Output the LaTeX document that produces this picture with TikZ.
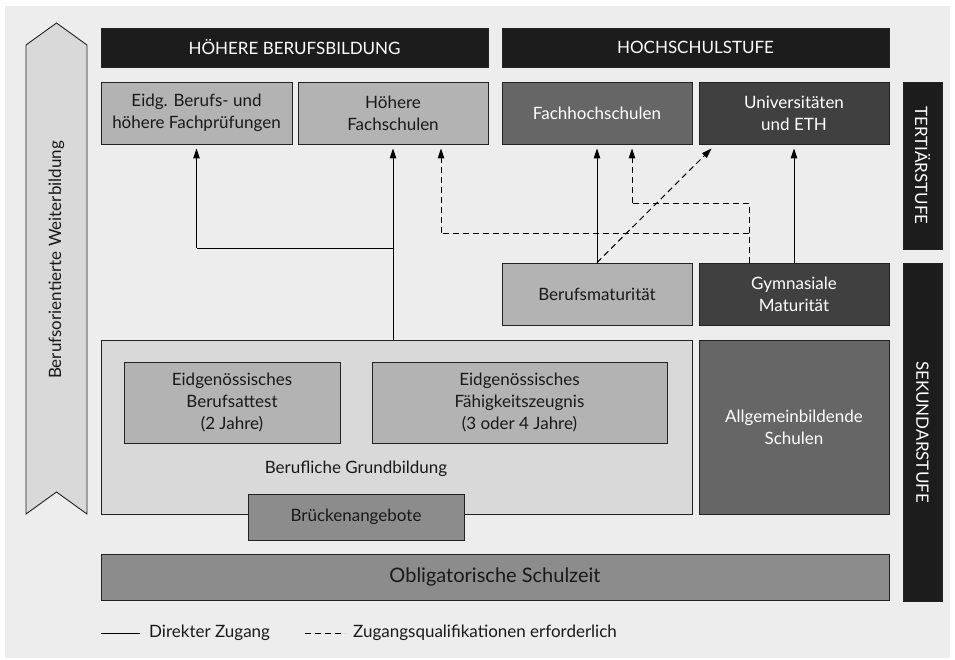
\documentclass[tikz,border=0pt]{standalone}
\usepackage{fontspec}
\setmainfont{Lato}
\usetikzlibrary{arrows.meta}
\definecolor{bgc}{HTML}{EDEDED}
\definecolor{barc}{HTML}{1C1C1C}
\definecolor{midc}{HTML}{B3B3B3}
\definecolor{darkc}{HTML}{666666}
\definecolor{darkerc}{HTML}{404040}
\definecolor{lightc}{HTML}{D9D9D9}
\definecolor{brkc}{HTML}{8C8C8C}
\definecolor{linec}{HTML}{222222}
\tikzset{
  txt/.style={font=\fontsize{17}{22}\selectfont},
  box/.style={draw=linec, line width=0.9pt, inner sep=0pt, align=center,
    txt, text=black!90},
  bar/.style={draw=linec, fill=barc, line width=0.9pt, inner sep=0pt, align=center,
    txt, text=white},
  light/.style={fill=midc},
  dark/.style={fill=darkc, text=white},
  darker/.style={fill=darkerc, text=white},
  conn/.style={line width=1pt, black, -{Triangle[length=10pt,width=6.5pt]}},
  dconn/.style={conn, dash pattern=on 6pt off 4pt},
  dline/.style={line width=1pt, black, dash pattern=on 6pt off 4pt},
  sline/.style={line width=1pt, black},
}
\begin{document}
\begin{tikzpicture}[x=1pt,y=-1pt]
\useasboundingbox (0,0) rectangle (955,659);
\fill[bgc] (5,6) rectangle (950,658);
% chevron
\draw[linec, fill=lightc, line width=0.9pt] (26,45) -- (56.5,23) -- (87,45) -- (87,514) -- (56.5,492) -- (26,514) -- cycle;
\node[rotate=90, txt, text=black!90] (bw) at (56.5,260) {Berufsorientierte Weiterbildung};
% headers
\node[bar, minimum width=387pt, minimum height=39pt] (hb) at (294.5,47.5) {HÖHERE BERUFSBILDUNG};
\node[bar, minimum width=387pt, minimum height=39pt] (hs) at (695.5,47.5) {HOCHSCHULSTUFE};
% tertiary
\node[box, light, minimum width=191pt, minimum height=62pt] (eidg) at (196.5,113) {Eidg. Berufs- und\\höhere Fachprüfungen};
\node[box, light, minimum width=190pt, minimum height=62pt] (hfs) at (393,113) {Höhere\\Fachschulen};
\node[box, dark, minimum width=190pt, minimum height=62pt] (fh) at (597,113) {Fachhochschulen};
\node[box, darker, minimum width=190pt, minimum height=62pt] (uni) at (794,113) {Universitäten\\und ETH};
% side bars
\node[bar, minimum width=39pt, minimum height=167pt] (tert) at (922.5,165.5) {};
\node[rotate=-90, text=white, txt] (tertt) at (tert.center) {TERTIÄRSTUFE};
\node[bar, minimum width=39pt, minimum height=338pt] (sek) at (922.5,432) {};
\node[rotate=-90, text=white, txt] (sekt) at (sek.center) {SEKUNDARSTUFE};
% maturity
\node[box, light, minimum width=190pt, minimum height=62pt] (bm) at (597,294) {Berufsmaturität};
\node[box, darker, minimum width=190pt, minimum height=62pt] (gm) at (794,294) {Gymnasiale\\Maturität};
% secondary
\node[box, fill=lightc, minimum width=591pt, minimum height=174pt] (bg) at (396.5,427) {};
\node[box, dark, minimum width=190pt, minimum height=174pt] (ab) at (794,427) {Allgemeinbildende\\Schulen};
\node[box, light, minimum width=216pt, minimum height=81pt] (eba) at (232,402.5) {Eidgenössisches\\Berufsattest\\(2 Jahre)};
\node[box, light, minimum width=295pt, minimum height=81pt] (efz) at (519.5,402.5) {Eidgenössisches\\Fähigkeitszeugnis\\(3 oder 4 Jahre)};
\node[txt, text=black!90] (bgt) at (356,469) {Berufliche Grundbildung};
\node[box, fill=brkc, minimum width=216pt, minimum height=46pt] (brk) at (356,517) {Brückenangebote};
\node[box, fill=brkc, minimum width=788pt, minimum height=46pt, font=\fontsize{20}{24}\selectfont] (obl) at (495,577) {Obligatorische Schulzeit};
% connectors
\coordinate (j0) at (bg.north -| hfs.south);
\coordinate (j1) at (393,248);
\draw[conn, shorten >=4pt] (j0) -- (hfs.south);
\draw[sline] (j1) -- (j1 -| eidg.south);
\draw[conn, shorten >=4pt] (j1 -| eidg.south) -- (eidg.south);
\coordinate (g1) at ([xshift=-45pt]gm.north);
\coordinate (h1) at ([xshift=48pt]hfs.south);
\coordinate (f1) at ([xshift=35pt]fh.south);
\draw[dline] (g1) -- (g1 |- 0,203);
\draw[dline] (g1 |- 0,233) -- (h1 |- 0,233);
\draw[dconn, shorten >=4pt] (h1 |- 0,233) -- (h1);
\draw[dline] (g1 |- 0,203) -- (f1 |- 0,203);
\draw[dconn, shorten >=4pt] (f1 |- 0,203) -- (f1);
\draw[conn, shorten >=4pt] (bm.north) -- (fh.south);
\draw[dconn] (bm.north) -- ([xshift=13pt,yshift=-4pt]uni.south west);
\draw[conn, shorten >=4pt] (gm.north) -- (uni.south);
% legend
\coordinate (l1) at (101,633);
\coordinate (l2) at (140,633);
\coordinate (l3) at (305,633);
\coordinate (l4) at (345,633);
\draw[sline] (l1) -- (l2);
\node[anchor=west, inner sep=0pt, txt, text=black!90] (lt1) at (149,633) {Direkter Zugang};
\draw[dline] (l3) -- (l4);
\node[anchor=west, inner sep=0pt, txt, text=black!90] (lt2) at (353,633) {Zugangsqualifikationen erforderlich};
\end{tikzpicture}
\end{document}
